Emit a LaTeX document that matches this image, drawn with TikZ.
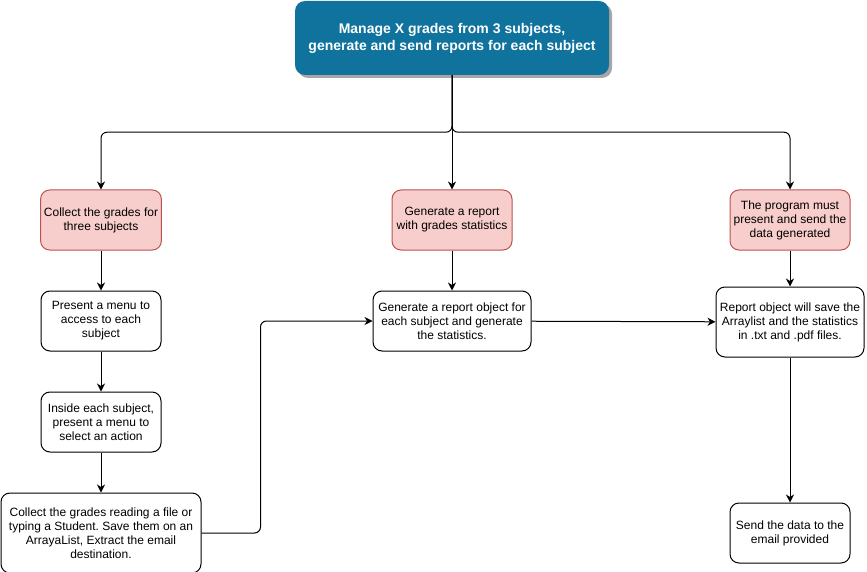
\documentclass[tikz,border=0pt]{standalone}
\usepackage{fontspec}
\setmainfont{Liberation Sans}
\usetikzlibrary{arrows.meta, positioning, shadows}
\definecolor{goalblue}{HTML}{10739E}
\definecolor{phasefill}{HTML}{F8CECC}
\definecolor{phaseline}{HTML}{B85450}
\frenchspacing

\begin{document}
\begin{tikzpicture}[
    x=1pt, y=-1pt,
    node distance=40pt and 40pt,
    goal/.style={rectangle, rounded corners=10pt, fill=goalblue,
      text=white, align=center, minimum width=314pt, minimum height=74pt,
      font=\bfseries\fontsize{14}{17}\selectfont,
      drop shadow={shadow xshift=3pt, shadow yshift=-3pt, opacity=.35, fill=black}},
    phase/.style={rectangle, rounded corners=9pt, draw=phaseline, fill=phasefill,
      line width=1pt, align=center, minimum width=120pt, minimum height=60pt,
      font=\fontsize{12}{14}\selectfont},
    block/.style={rectangle, rounded corners=9pt, draw, fill=white,
      line width=1pt, align=center, minimum width=120pt, minimum height=60pt,
      font=\fontsize{12}{14}\selectfont},
    arrow/.style={draw, line width=1pt, -{Stealth[length=8pt, width=8pt, inset=2.5pt]}}
]
\useasboundingbox (0,0) rectangle (867,572);

\node[goal] (goal) at (452,38) {Manage X grades from 3 subjects,\\generate and send reports for each subject};

% three phases
\node[phase] (collect) at (101,220) {Collect the grades for\\three subjects};
\node[phase] (report) at (452,220) {Generate a report\\with grades statistics};
\node[phase] (deliver) at (790,220) {The program must\\present and send the\\data generated};

% left column
\node[block, below=of collect] (menu) {Present a menu to\\access to each\\subject};
\node[block, below=of menu] (action) {Inside each subject,\\present a menu to\\select an action};
\node[block, minimum width=200pt, minimum height=80pt, below=of action] (grades)
  {Collect the grades reading a file or\\typing a Student. Save them on an\\ArrayaList, Extract the email\\destination.};

% middle and right columns
\node[block, minimum width=158pt, below=of report] (reportobj)
  {Generate a report object for\\each subject and generate\\the statistics.};
\node[block, minimum width=148pt, minimum height=70pt, below=36pt of deliver] (save)
  {Report object will save the\\Arraylist and the statistics\\in .txt and .pdf files.};
\node[block, below=145pt of save] (send) {Send the data to the\\email provided};

\draw[arrow, rounded corners=6pt] (goal.south) -- ++(0,57) -| (collect.north);
\draw[arrow, rounded corners=6pt] (goal.south) -- ++(0,57) -| (deliver.north);
\draw[arrow] (goal.south) -- (report.north);

\draw[arrow] (collect) -- (menu);
\draw[arrow] (menu) -- (action);
\draw[arrow] (action) -- (grades);
\draw[arrow, rounded corners=6pt] (grades.east) -- ++(59,0) |- (reportobj.west);

\draw[arrow] (report) -- (reportobj);
\draw[arrow] (reportobj) -- (save);
\draw[arrow] (deliver) -- (save);
\draw[arrow] (save) -- (send);

\end{tikzpicture}
\end{document}
